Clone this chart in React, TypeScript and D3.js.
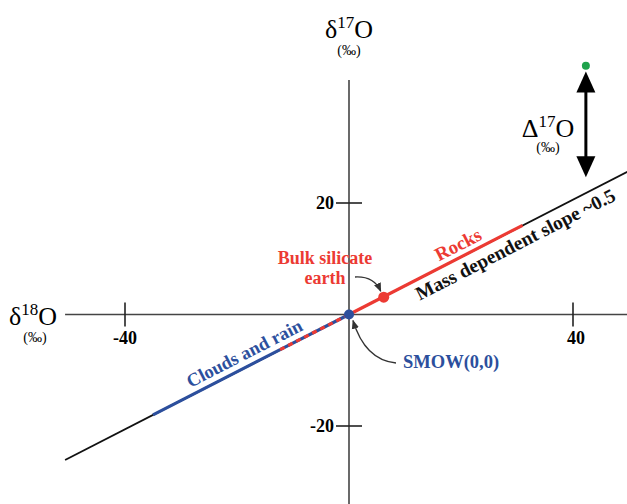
import React from "react";
import * as d3 from "d3";

// values (per mil)
const xTicks = [-40, 40];
const yTicks = [-20, 20];
const massLine: [number, number][] = [[-50.7, -26.1], [49.7, 25.6]];
const cloudsSolid: [number, number][] = [[-35, -18], [-12.3, -6.3]];
const cloudsDashed: [number, number][] = [[-12.3, -6.3], [0, 0]];
const rocks: [number, number][] = [[0, 0], [31, 16]];
const smow: [number, number] = [0, 0];
const bulkEarth: [number, number] = [6.2, 3.1];
const anomaly: [number, number] = [42.3, 44.6];
const anomalyArrow: [number, number][] = [[42.3, 43.6], [42.3, 24.6]];

const W = 627;
const H = 504;
const RED = "#ec3a33";
const BLUE = "#2c4f9d";
const FONT = "'Liberation Serif', 'Times New Roman', serif";

const x = d3.scaleLinear().domain([-40, 40]).range([125, 573]);
const y = d3.scaleLinear().domain([-20, 20]).range([426, 203]);
const line = d3.line<[number, number]>().x(d => x(d[0])).y(d => y(d[1]));

const angle = (-Math.atan2(y(massLine[0][1]) - y(massLine[1][1]), x(massLine[1][0]) - x(massLine[0][0])) * 180) / Math.PI;

const LineLabel = ({ at, off, fill, text, size = 18 }: { at: number; off: number; fill: string; text: string; size?: number }) => (
  <g transform={`translate(${x(at)},${y(at * 0.515)}) rotate(${angle})`}>
    <text y={off} textAnchor="middle" fontWeight="bold" fontSize={size} fill={fill}>{text}</text>
  </g>
);

export default function App() {
  const [x0, y0] = [x(0), y(0)];
  const ax = x(anomalyArrow[0][0]);
  const aTop = y(anomalyArrow[0][1]);
  const aBot = y(anomalyArrow[1][1]);
  return (
    <svg width={W} height={H} style={{ position: "absolute", left: 0, top: 0, background: "#fff" }} fontFamily={FONT}>
      <defs>
        <marker id="ah" viewBox="0 0 10 10" refX="9" refY="5" markerWidth="7" markerHeight="7" orient="auto">
          <path d="M0,1 L10,5 L0,9 Z" fill="#333" />
        </marker>
      </defs>

      {/* axes */}
      <line x1={x(-50.7)} x2={W} y1={y0} y2={y0} stroke="#444" strokeWidth={1.6} />
      <line x1={x0} x2={x0} y1={80} y2={H} stroke="#444" strokeWidth={1.6} />
      {xTicks.map(t => (
        <g key={t}>
          <line x1={x(t)} x2={x(t)} y1={y0 - 12} y2={y0 + 12} stroke="#222" strokeWidth={1.6} />
          <text x={x(t) + (t > 0 ? 3 : 0)} y={344} textAnchor="middle" fontWeight="bold" fontSize={18}>{t}</text>
        </g>
      ))}
      {yTicks.map(t => (
        <g key={t}>
          <line x1={x0 - 13} x2={x0 + 13} y1={y(t)} y2={y(t)} stroke="#222" strokeWidth={1.6} />
          <text x={x0 - 15} y={y(t) + 6} textAnchor="end" fontWeight="bold" fontSize={18}>{t}</text>
        </g>
      ))}

      {/* axis titles */}
      <text x={x0} y={38} textAnchor="middle" fontSize={26}>
        δ<tspan fontSize={17} dy={-10}>17</tspan><tspan dy={10}>O</tspan>
      </text>
      <text x={x0} y={55} textAnchor="middle" fontSize={14}>(‰)</text>
      <text x={9} y={325} fontSize={26}>
        δ<tspan fontSize={17} dy={-10}>18</tspan><tspan dy={10}>O</tspan>
      </text>
      <text x={35} y={342} textAnchor="middle" fontSize={14}>(‰)</text>
      <text x={548} y={137} textAnchor="middle" fontSize={26}>
        Δ<tspan fontSize={17} dy={-10}>17</tspan><tspan dy={10}>O</tspan>
      </text>
      <text x={548} y={152} textAnchor="middle" fontSize={14}>(‰)</text>

      {/* mass dependent line */}
      <path d={line(massLine) ?? ""} stroke="#111" strokeWidth={1.8} fill="none" />
      <path d={line(cloudsSolid) ?? ""} stroke={BLUE} strokeWidth={3.2} fill="none" />
      <path d={line(cloudsDashed) ?? ""} stroke={BLUE} strokeWidth={3.2} fill="none" />
      <path d={line(cloudsDashed) ?? ""} stroke={RED} strokeWidth={3.2} fill="none" strokeDasharray="5 4" />
      <path d={line(rocks) ?? ""} stroke={RED} strokeWidth={3.2} fill="none" />

      <LineLabel at={-17.6} off={-7} fill={BLUE} text="Clouds and rain" size={18.5} />
      <LineLabel at={20.5} off={-6} fill={RED} text="Rocks" size={19} />
      <LineLabel at={28.6} off={20} fill="#111" text="Mass dependent slope ~0.5" size={19.5} />

      {/* points */}
      <circle cx={x(bulkEarth[0])} cy={y(bulkEarth[1])} r={5.5} fill={RED} />
      <circle cx={x(smow[0])} cy={y(smow[1])} r={5} fill={BLUE} />
      <circle cx={x(anomaly[0])} cy={y(anomaly[1])} r={4} fill="#1ea34c" />

      {/* annotations */}
      <text x={325} y={264} textAnchor="middle" fontWeight="bold" fontSize={18} fill={RED}>Bulk silicate</text>
      <text x={325} y={284} textAnchor="middle" fontWeight="bold" fontSize={18} fill={RED}>earth</text>
      <path d={`M355,277 Q374,276 ${x(bulkEarth[0]) - 3},${y(bulkEarth[1]) - 6}`} stroke="#333" strokeWidth={1.3} fill="none" markerEnd="url(#ah)" />
      <text x={403} y={368} fontWeight="bold" fontSize={18.5} fill={BLUE}>SMOW(0,0)</text>
      <path d={`M396,363 Q365,360 ${x0 + 4},${y0 + 6}`} stroke="#333" strokeWidth={1.3} fill="none" markerEnd="url(#ah)" />

      {/* Δ17O double arrow */}
      <line x1={ax} x2={ax} y1={aTop + 18} y2={aBot - 18} stroke="#000" strokeWidth={3} />
      <path d={`M${ax},${aTop} L${ax - 9.5},${aTop + 21} L${ax + 9.5},${aTop + 21} Z`} fill="#000" />
      <path d={`M${ax},${aBot} L${ax - 9.5},${aBot - 21} L${ax + 9.5},${aBot - 21} Z`} fill="#000" />
    </svg>
  );
}
